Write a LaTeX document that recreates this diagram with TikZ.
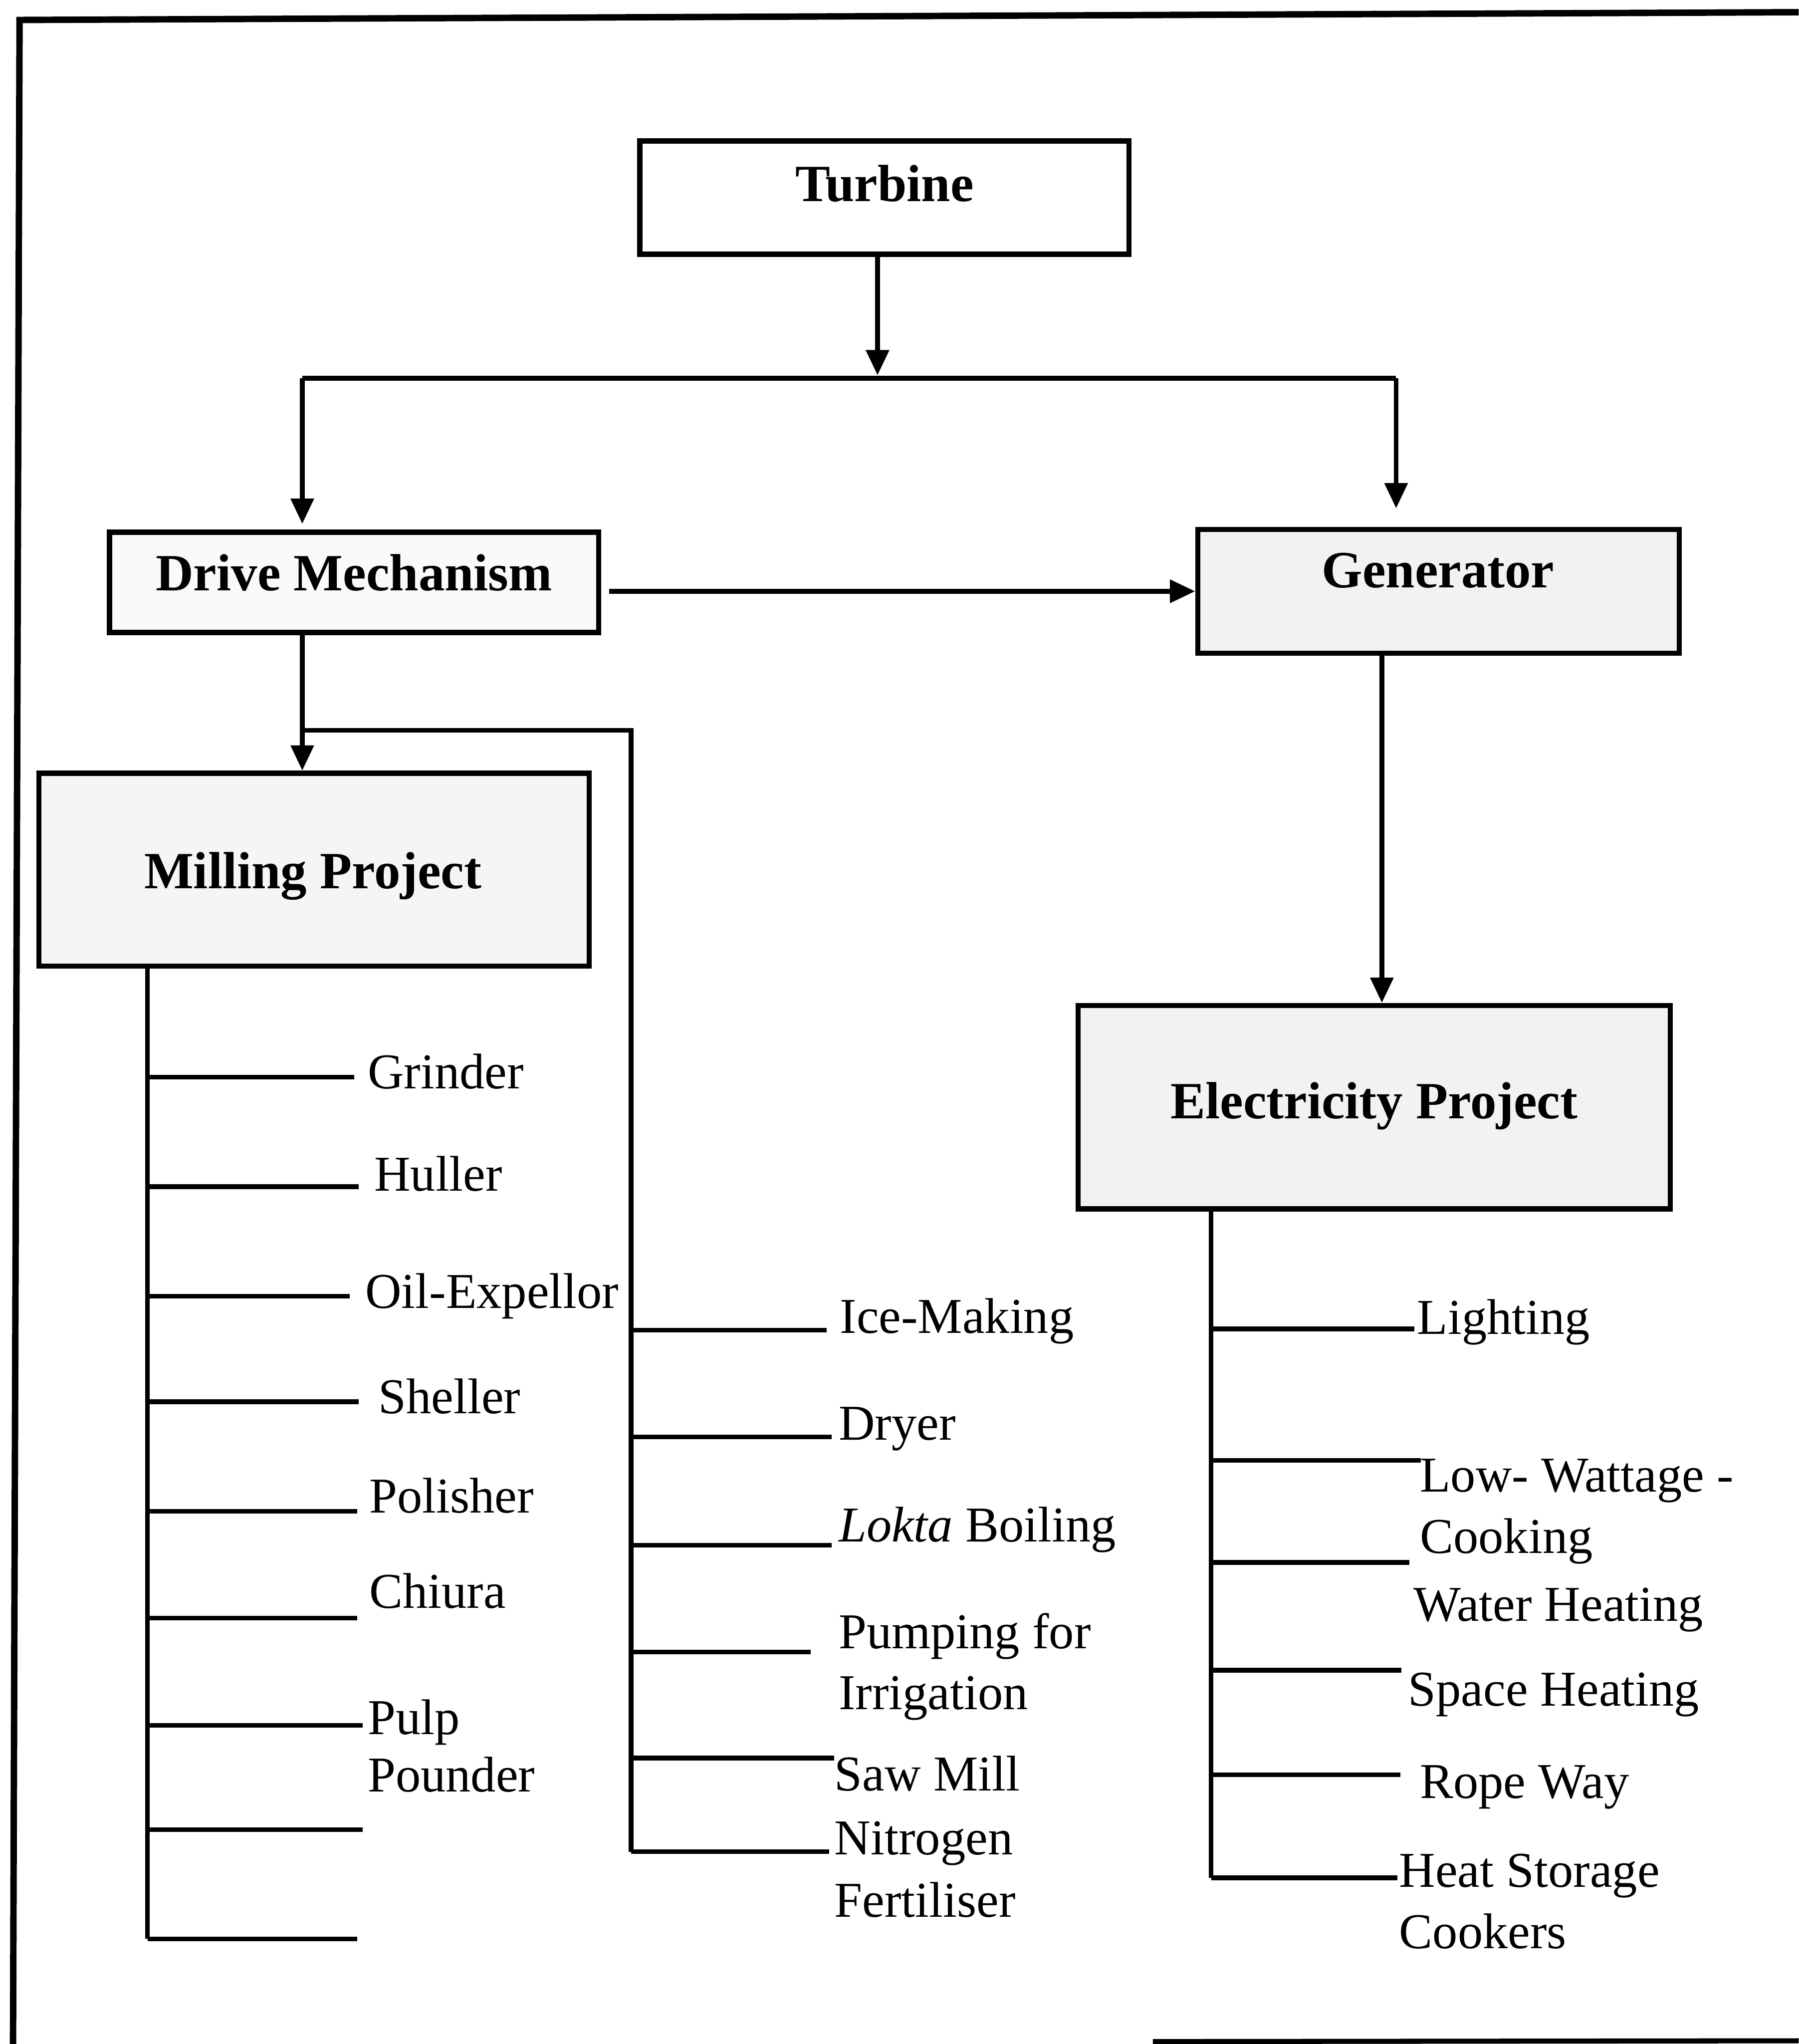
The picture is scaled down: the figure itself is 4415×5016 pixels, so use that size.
\documentclass[tikz,border=0pt]{standalone}
\usepackage{fontspec}
\setmainfont{Liberation Serif}
\usetikzlibrary{arrows.meta,calc}
\begin{document}
\begin{tikzpicture}[x=0.01cm,y=-0.01cm,
  font=\fontsize{35pt}{42pt}\selectfont,
  conn/.style={line width=3.3pt},
  arr/.style={line width=3.3pt,-{Triangle[length=0.62cm,width=0.55cm]}},
  box/.style={draw,line width=3.6pt,rectangle,inner sep=0pt},
  boxtext/.style={inner sep=0pt,font=\fontsize{36.5pt}{44pt}\selectfont\bfseries},
  leaf/.style={inner sep=0pt,anchor=base west}]
\useasboundingbox (0,0) rectangle (4415,5016);
% frame
\coordinate (f1) at (48,49);
\coordinate (f2) at (4415,30);
\coordinate (f3) at (32,5016);
\draw[line width=4.5pt] (f2) -- (f1) -- (f3);
\coordinate (f4) at (2830,5010);
\coordinate (f5) at (4415,5008);
\draw[line width=3.5pt] (f4) -- (f5);
% boxes
\node[box,minimum width=12cm,minimum height=2.78cm] (turb) at (2171,485) {};
\node[boxtext] (turbt) at (2171,451) {Turbine};
\node[box,fill=black!2,minimum width=12cm,minimum height=2.46cm] (dm) at (869,1429) {};
\node[boxtext] (dmt) at (869,1405) {Drive Mechanism};
\node[box,fill=black!5,minimum width=11.81cm,minimum height=3.04cm] (gen) at (3531,1451) {};
\node[boxtext] (gent) at (3530,1400) {Generator};
\node[box,fill=black!4,minimum width=13.5cm,minimum height=4.73cm] (mill) at (771,2134) {};
\node[boxtext] (millt) at (768,2150) {Milling Project};
\node[box,fill=black!5,minimum width=14.53cm,minimum height=4.99cm] (elec) at (3373,2717) {};
\node[boxtext] (elect) at (3373,2714) {Electricity Project};
% top connectors
\coordinate (j0) at (2154,921);
\coordinate (hl) at (742,928);
\coordinate (hr) at (3427,928);
\draw[arr] (turb.south -| j0) -- (j0);
\draw[conn] (hl) -- (hr);
\draw[arr,shorten >=0.14cm] (hl) -- (hl |- dm.north);
\draw[arr,shorten >=0.45cm] (hr) -- (hr |- gen.north);
\draw[arr] ([xshift=0.19cm]dm.east |- gen.west) -- (gen.west);
% drive mechanism to milling
\draw[arr] (dm.south -| hl) -- (mill.north -| hl);
\coordinate (b0) at (742,1792);
\coordinate (b1) at (1549,1792);
\coordinate (b2) at (1549,4544);
\draw[conn] (b0) -- (b1) -- (b2);
% generator to electricity
\coordinate (ge) at (3392,1603);
\draw[arr] (ge) -- (ge |- elec.north);
% milling list
\coordinate (mv) at (362,4758);
\draw[conn] (mill.south -| mv) -- (mv);
\foreach \yy/\xe in {2643/870,2912/880,3181/858,3440/880,3709/877,3971/877,4234/890,4490/890,4758/877}
  \draw[conn] (362,\yy) -- (\xe,\yy);
\node[leaf] (g1) at (902,2672) {Grinder};
\node[leaf] (g2) at (918,2922) {Huller};
\node[leaf] (g3) at (896,3210) {Oil-Expellor};
\node[leaf] (g4) at (928,3469) {Sheller};
\node[leaf] (g5) at (906,3712) {Polisher};
\node[leaf] (g6) at (906,3946) {Chiura};
\node[leaf] (g7) at (902,4256) {Pulp};
\node[leaf] (g7b) at (902,4397) {Pounder};
% middle list
\foreach \yy/\xe in {3264/2029,3526/2042,3792/2042,4054/1990,4314/2048,4544/2035}
  \draw[conn] (1549,\yy) -- (\xe,\yy);
\node[leaf] (i1) at (2061,3271) {Ice-Making};
\node[leaf] (i2) at (2058,3533) {Dryer};
\node[leaf] (i3) at (2058,3783) {\textit{Lokta} Boiling};
\node[leaf] (i4) at (2058,4045) {Pumping for};
\node[leaf] (i4b) at (2058,4195) {Irrigation};
\node[leaf] (i5) at (2048,4394) {Saw Mill};
\node[leaf] (i6) at (2048,4551) {Nitrogen};
\node[leaf] (i6b) at (2048,4704) {Fertiliser};
% electricity list
\coordinate (ev) at (2973,4608);
\draw[conn] (elec.south -| ev) -- (ev);
\foreach \yy/\xe in {3261/3472,3584/3488,3834/3459,4099/3440,4355/3437,4608/3430}
  \draw[conn] (2973,\yy) -- (\xe,\yy);
\node[leaf] (e1) at (3478,3274) {Lighting};
\node[leaf] (e2) at (3485,3661) {Low- Wattage -};
\node[leaf] (e2b) at (3485,3811) {Cooking};
\node[leaf] (e3) at (3469,3978) {Water Heating};
\node[leaf] (e4) at (3456,4186) {Space Heating};
\node[leaf] (e5) at (3485,4413) {Rope Way};
\node[leaf] (e6) at (3434,4631) {Heat Storage};
\node[leaf] (e6b) at (3434,4781) {Cookers};
\end{tikzpicture}
\end{document}
